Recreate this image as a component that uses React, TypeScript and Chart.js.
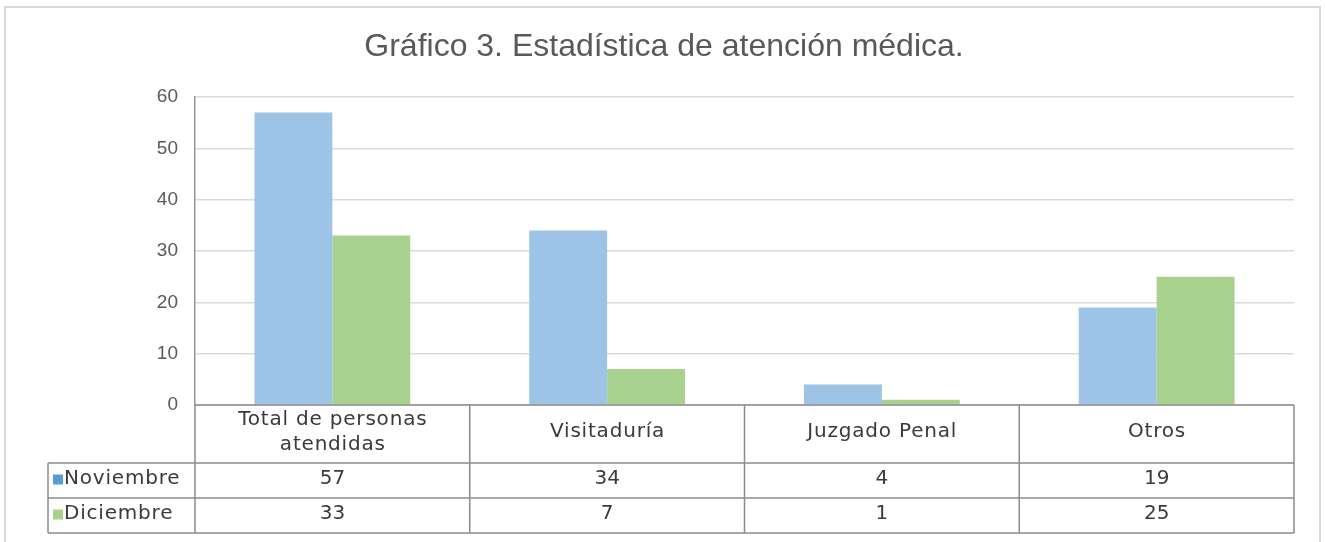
import React, { useEffect, useRef } from "react";
import { Chart, registerables } from "chart.js";

Chart.register(...registerables);

const TITLE = "Gráfico 3. Estadística de atención médica.";
const categories: string[][] = [
  ["Total de personas", "atendidas"],
  ["Visitaduría"],
  ["Juzgado Penal"],
  ["Otros"],
];
const seriesNames = ["Noviembre", "Diciembre"];
const noviembre = [57, 34, 4, 19];
const diciembre = [33, 7, 1, 25];
const yTicks = { min: 0, max: 60, step: 10 };

const BAR_COLORS = ["#9dc3e6", "#a9d18e"];
const KEY_COLORS = ["#5b9bd5", "#a9d18e"];
const TEXT = "#3a3a3a";
const LINE = "#8c8c8c";

const tablePlugin = {
  id: "dataTable",
  afterDraw(chart: any) {
    const ctx = chart.ctx as CanvasRenderingContext2D;
    const x = chart.scales.x;
    const area = chart.chartArea;
    const n = categories.length;
    const colW = (area.right - area.left) / n;
    const top = area.bottom;
    const catH = 58;
    const rowH = 35;
    const leftEdge = 48;
    const r1 = top + catH;
    const r2 = r1 + rowH;
    const r3 = r2 + rowH;

    ctx.save();
    ctx.strokeStyle = LINE;
    ctx.lineWidth = 1.5;
    ctx.beginPath();
    ctx.moveTo(area.left, top);
    ctx.lineTo(area.right, top);
    [r1, r2, r3].forEach((yy) => {
      ctx.moveTo(leftEdge, yy);
      ctx.lineTo(area.right, yy);
    });
    ctx.moveTo(leftEdge, r1);
    ctx.lineTo(leftEdge, r3);
    for (let i = 0; i <= n; i++) {
      const xx = i < n ? x.getPixelForValue(i) - colW / 2 : x.getPixelForValue(n - 1) + colW / 2;
      ctx.moveTo(xx, top);
      ctx.lineTo(xx, r3);
    }
    ctx.stroke();

    const sp = 0.8;
    ctx.fillStyle = TEXT;
    ctx.font = "20px 'DejaVu Sans'";
    ctx.textAlign = "center";
    ctx.textBaseline = "middle";
    (ctx as any).letterSpacing = sp + "px";
    categories.forEach((lines, i) => {
      const cx = x.getPixelForValue(i) + sp / 2;
      const lh = 25;
      const startY = top + catH / 2 - ((lines.length - 1) * lh) / 2 - 2;
      lines.forEach((ln, j) => ctx.fillText(ln, cx, startY + j * lh));
    });
    const rows = [noviembre, diciembre];
    rows.forEach((vals, r) => {
      const cy = r1 + rowH * r + rowH / 2 - 2;
      (ctx as any).letterSpacing = "0px";
      vals.forEach((v, i) => {
        ctx.textAlign = "center";
        ctx.fillStyle = TEXT;
        ctx.fillText(String(v), x.getPixelForValue(i), cy);
      });
      ctx.fillStyle = KEY_COLORS[r];
      ctx.fillRect(leftEdge + 5, cy - 4, 10, 10);
      ctx.fillStyle = TEXT;
      ctx.textAlign = "left";
      (ctx as any).letterSpacing = sp + "px";
      ctx.fillText(seriesNames[r], leftEdge + 16, cy);
    });
    (ctx as any).letterSpacing = "0px";

    ctx.fillStyle = "#595959";
    ctx.font = "32px 'Liberation Sans'";
    ctx.textAlign = "center";
    ctx.fillText(TITLE, 664, 47);

    ctx.strokeStyle = "#d9d9d9";
    ctx.lineWidth = 2;
    ctx.strokeRect(5, 7, 1315, 560);
    ctx.restore();
  },
};

export default function App() {
  const ref = useRef<HTMLCanvasElement>(null);
  useEffect(() => {
    if (!ref.current) return;
    const chart = new Chart(ref.current, {
      type: "bar",
      data: {
        labels: categories.map((c) => c.join(" ")),
        datasets: [
          { label: seriesNames[0], data: noviembre, backgroundColor: BAR_COLORS[0] },
          { label: seriesNames[1], data: diciembre, backgroundColor: BAR_COLORS[1] },
        ],
      },
      options: {
        animation: false,
        responsive: false,
        maintainAspectRatio: false,
        layout: { padding: { left: 0, right: 31, top: 97, bottom: 137 } },
        plugins: {
          legend: { display: false },
          title: { display: false },
          tooltip: { enabled: false },
        },
        datasets: { bar: { categoryPercentage: 0.567, barPercentage: 1 } } as any,
        scales: {
          x: { display: false },
          y: {
            min: yTicks.min,
            max: yTicks.max,
            ticks: {
              stepSize: yTicks.step,
              color: "#595959",
              font: { family: "'Liberation Sans'", size: 19 },
              padding: 17,
            },
            grid: { color: "#d9d9d9", lineWidth: 1.5, drawTicks: false },
            border: { display: true, color: "#969696", width: 1.5 },
            afterFit(scale: any) {
              scale.width = 195;
            },
          },
        },
      },
      plugins: [tablePlugin],
    });
    return () => chart.destroy();
  }, []);
  return (
    <div style={{ position: "fixed", left: 0, top: 0, width: 1325, height: 542, background: "#fff" }}>
      <canvas ref={ref} width={1325} height={542} style={{ display: "block" }} />
    </div>
  );
}
